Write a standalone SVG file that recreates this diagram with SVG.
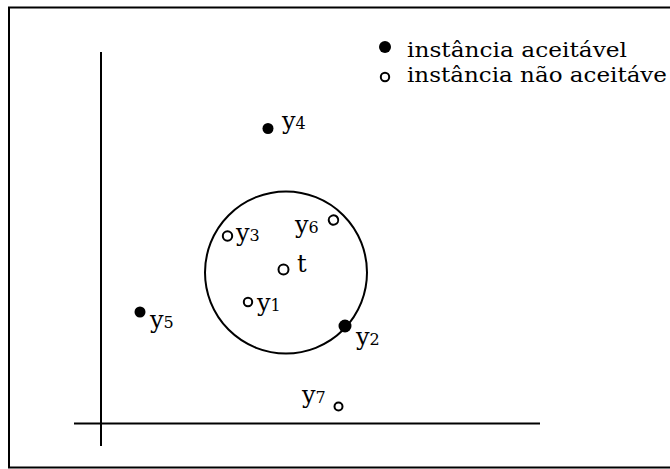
<svg xmlns="http://www.w3.org/2000/svg" width="670" height="469" viewBox="0 0 670 469">
<style>
.ln{stroke:#000;stroke-width:2;fill:none}
.lbl{font-family:"DejaVu Serif","Liberation Serif",serif;font-size:24px;fill:#000}
.sub{font-size:16px}
.leg{font-family:"DejaVu Serif","Liberation Serif",serif;font-size:20px;fill:#000}
.open{fill:#fff;stroke:#000;stroke-width:2}
.fill{fill:#000}
</style>
<rect width="670" height="469" fill="#fff"/>
<rect x="9" y="7.5" width="720" height="460" class="ln"/>
<g id="axes">
<line x1="101" y1="52" x2="101" y2="446" class="ln"/>
<line x1="74" y1="423.5" x2="540" y2="423.5" class="ln"/>
</g>
<g id="legend">
<circle cx="385" cy="47" r="6" class="fill"/>
<text x="407" y="57" class="leg" textLength="220" lengthAdjust="spacingAndGlyphs">instância aceitável</text>
<circle cx="385" cy="77" r="4.2" class="open"/>
<text x="407" y="82" class="leg" textLength="260" lengthAdjust="spacingAndGlyphs">instância não aceitáve</text>
</g>
<g id="region"><circle cx="286" cy="272.5" r="81" class="ln"/></g>
<g id="t"><circle cx="283.5" cy="269.5" r="5" class="open"/><text x="297" y="272" class="lbl">t</text></g>
<g id="y1"><circle cx="248" cy="302" r="4.2" class="open"/><text x="257" y="311" class="lbl">y<tspan class="sub">1</tspan></text></g>
<g id="y2"><circle cx="345" cy="326" r="6.5" class="fill"/><text x="356" y="345" class="lbl">y<tspan class="sub">2</tspan></text></g>
<g id="y3"><circle cx="227.5" cy="236" r="4.7" class="open"/><text x="236" y="241" class="lbl">y<tspan class="sub">3</tspan></text></g>
<g id="y4"><circle cx="268" cy="128.5" r="5.5" class="fill"/><text x="282" y="129" class="lbl">y<tspan class="sub">4</tspan></text></g>
<g id="y5"><circle cx="140" cy="312" r="5.5" class="fill"/><text x="150" y="328" class="lbl">y<tspan class="sub">5</tspan></text></g>
<g id="y6"><circle cx="333.5" cy="220" r="4.7" class="open" transform="rotate(-20 333.5 220)"/><text x="295" y="233" class="lbl">y<tspan class="sub">6</tspan></text></g>
<g id="y7"><circle cx="338.5" cy="406.5" r="4" class="open"/><text x="302" y="403" class="lbl">y<tspan class="sub">7</tspan></text></g>
</svg>
